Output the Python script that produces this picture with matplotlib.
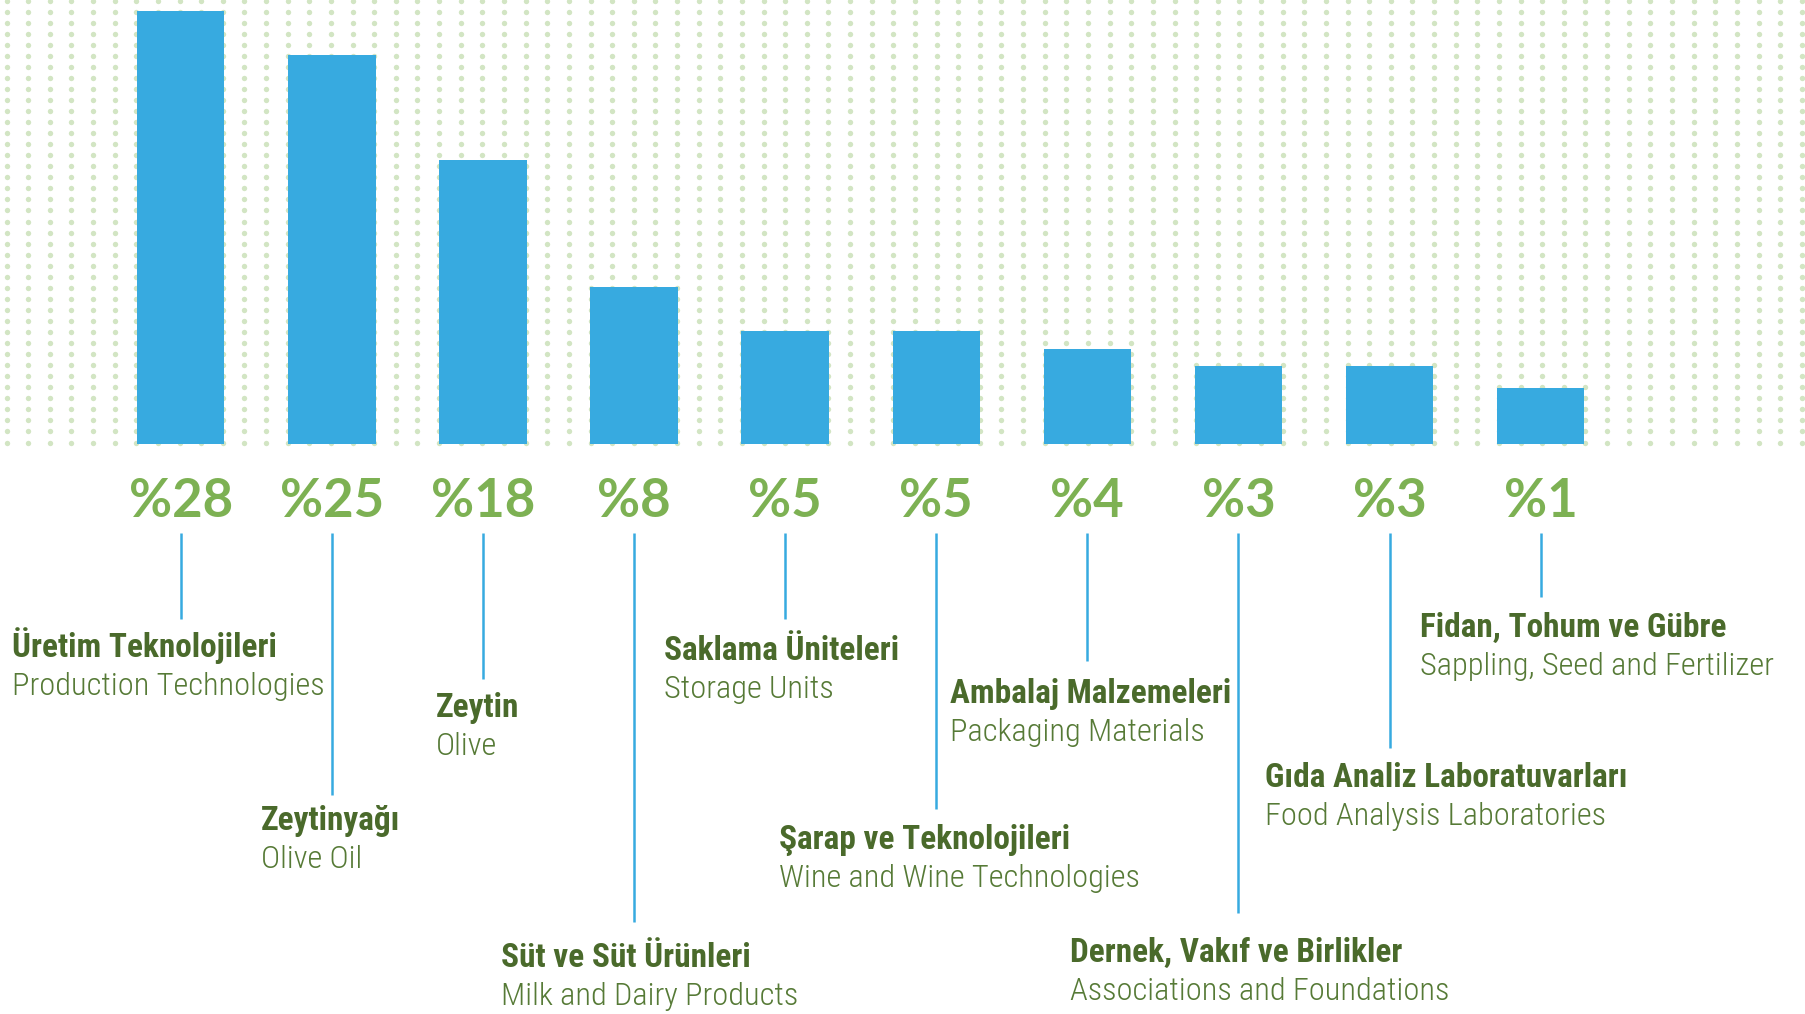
import numpy as np
import matplotlib
matplotlib.use("Agg")
import matplotlib.pyplot as plt
from matplotlib import font_manager
from matplotlib.font_manager import FontProperties
from matplotlib.transforms import blended_transform_factory

# ---------------- data ----------------
categories_tr = ["Üretim Teknolojileri", "Zeytinyağı", "Zeytin", "Süt ve Süt Ürünleri",
                 "Saklama Üniteleri", "Şarap ve Teknolojileri", "Ambalaj Malzemeleri",
                 "Dernek, Vakıf ve Birlikler", "Gıda Analiz Laboratuvarları",
                 "Fidan, Tohum ve Gübre"]
categories_en = ["Production Technologies", "Olive Oil", "Olive", "Milk and Dairy Products",
                 "Storage Units", "Wine and Wine Technologies", "Packaging Materials",
                 "Associations and Foundations", "Food Analysis Laboratories",
                 "Sappling, Seed and Fertilizer"]
percent_labels = ["%28", "%25", "%18", "%8", "%5", "%5", "%4", "%3", "%3", "%1"]
# bar heights as drawn in the picture (same scale as the %28 bar)
bar_heights = [28, 25.15, 18.37, 10.15, 7.31, 7.31, 6.14, 5.04, 5.04, 3.62]

# ---------------- layout (pixels) ----------------
W, H = 1805, 1014
BASE = 444                      # bar baseline from top
line_top = 533
line_ends = [619, 795, 679, 922, 619, 809, 661, 913, 748, 597]
text_x = [12, 261, 436, 501, 664, 779, 950, 1070, 1265, 1420]
text_base = [657, 830, 717, 967, 660, 849, 703, 962, 787, 637]
LINE_GAP = 38

BAR_C = "#37aae0"
PCT_C = "#7db153"
BOLD_C = "#4a6a2b"
REG_C = "#567a36"
DOT_C = "#d2e5c3"


# ---------------- font selection: a narrow sans ----------------
def _w(v):
    if isinstance(v, str):
        return font_manager.weight_dict.get(v.lower(), 400)
    return int(v)


def pick_narrow(target_weight):
    prio = ["Liberation Sans", "Roboto", "Open Sans", "Noto Sans", "DejaVu Sans"]
    best = None
    for f in font_manager.fontManager.ttflist:
        fn = f.fname.replace("_", "").replace("-", "")
        narrow = ("Narrow" in f.name or "Condensed" in f.name or "Narrow" in fn
                  or "Condensed" in fn or f.stretch in ("condensed", "semi-condensed",
                                                       "extra-condensed"))
        if not narrow or f.style != "normal":
            continue
        sub = 1 if ("Semi" in fn or "Extra" in fn or "Ultra" in fn) else 0
        rank = len(prio)
        for k, p in enumerate(prio):
            if f.name.startswith(p):
                rank = k
                break
        wscore = abs(_w(f.weight) - target_weight)
        key = (rank, sub, wscore)
        if best is None or key < best[0]:
            best = (key, f.fname)
    if best is None:
        return FontProperties(family="DejaVu Sans",
                              weight="bold" if target_weight >= 600 else "normal")
    return FontProperties(fname=best[1])


fp_bold = pick_narrow(700)
fp_reg = pick_narrow(300)
names = {f.name for f in font_manager.fontManager.ttflist}
pct_font = "Lato" if "Lato" in names else "DejaVu Sans"

fig = plt.figure(figsize=(W / 100, H / 100), dpi=100)
fig.patch.set_facecolor("white")
renderer = fig.canvas.get_renderer()


def fit_size(fp, samples, targets, start=24):
    tot = 0.0
    for s in samples:
        t = fig.text(0, 0, s, fontproperties=fp, fontsize=start)
        tot += t.get_window_extent(renderer).width
        t.remove()
    return start * sum(targets) / tot


size_bold = fit_size(fp_bold, ["Üretim Teknolojileri", "Dernek, Vakıf ve Birlikler",
                               "Gıda Analiz Laboratuvarları"], [264, 330, 367])
size_reg = fit_size(fp_reg, ["Production Technologies", "Associations and Foundations",
                             "Sappling, Seed and Fertilizer", "Food Analysis Laboratories"],
                    [298, 383, 363, 344])

# background (pixel coordinates)
bg = fig.add_axes([0, 0, 1, 1], zorder=0)
bg.set_xlim(0, W)
bg.set_ylim(H, 0)
bg.axis("off")

# dotted pattern
dx = np.arange(6.5, W, 21.63)
dy = np.arange(0.5, BASE, 11.05)
gx, gy = np.meshgrid(dx, dy)
bg.scatter(gx.ravel(), gy.ravel(), s=15, c=DOT_C, linewidths=0, zorder=1)

# bar axes
n = len(bar_heights)
x0_px, step_px = 180.7, 151.1
ax = fig.add_axes([0, (H - BASE) / H, 1, BASE / H], zorder=2)
ax.patch.set_alpha(0)
ax.set_xlim(-x0_px / step_px, (W - x0_px) / step_px)
ax.set_ylim(0, 28 * BASE / 433)
ax.axis("off")
x = np.arange(n)
ax.bar(x, bar_heights, width=87.4 / step_px, color=BAR_C, linewidth=0)

# labels & connectors
tr = blended_transform_factory(ax.transData, bg.transData)
for i in range(n):
    bg.text(i, 517, percent_labels[i], transform=tr,
            ha="center", va="baseline", fontsize=38, fontweight="bold",
            family=pct_font, color=PCT_C)
    bg.plot([i, i], [line_top, line_ends[i]], transform=tr, color=BAR_C,
            lw=1.8, solid_capstyle="butt", clip_on=False)
    bg.text(text_x[i], text_base[i], categories_tr[i], ha="left", va="baseline",
            fontproperties=fp_bold, fontsize=size_bold, color=BOLD_C)
    bg.text(text_x[i], text_base[i] + LINE_GAP, categories_en[i], ha="left",
            va="baseline", fontproperties=fp_reg, fontsize=size_reg, color=REG_C)

fig.savefig("out.png", dpi=100)
